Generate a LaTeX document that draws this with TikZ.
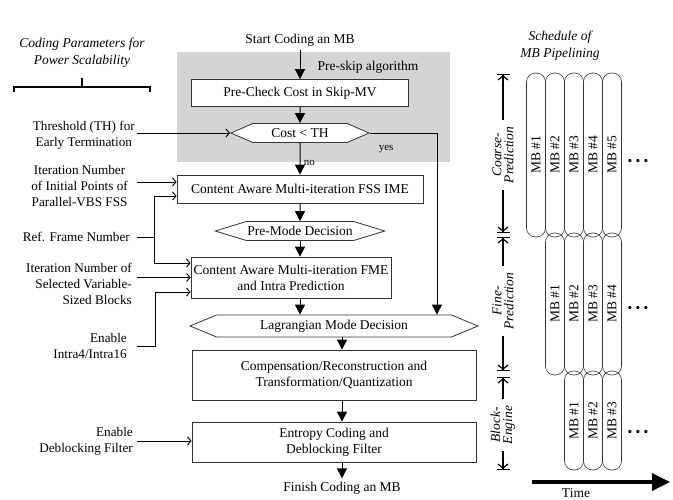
\documentclass[tikz,border=0pt]{standalone}
\usepackage{fontspec}
\setmainfont{Liberation Serif}
\usetikzlibrary{positioning,shapes.symbols,arrows.meta,calc}

\begin{document}
\begin{tikzpicture}[x=1pt,y=-1pt,
  font=\fontsize{13.5}{16}\selectfont,
  block/.style={draw=black!80, line width=0.8pt, fill=white, align=center, inner sep=1pt},
  decide/.style={draw=black!80, line width=0.8pt, fill=white, signal, signal to=west and east, inner sep=1pt},
  flow/.style={-{Triangle[length=10pt,width=10pt]}, line width=1pt},
  input/.style={-{Straight Barb[length=3.5pt,width=8pt]}, line width=0.9pt},
  param/.style={font=\fontsize{13.2}{16}\selectfont, anchor=east, inner ysep=0pt},
  head/.style={font=\itshape\fontsize{13.5}{17}\selectfont, align=center},
  mb/.style={draw=black!80, line width=0.6pt, rounded corners=9pt, rotate=90, minimum height=19pt, inner sep=0pt},
  stage/.style={font=\itshape\fontsize{13.5}{12}\selectfont, rotate=90, align=center, inner xsep=7pt, inner ysep=0pt},
  dim/.style={-{Straight Barb[length=4pt,width=10pt]Bar[width=13pt]}, line width=1.2pt}
]
\useasboundingbox (0,0) rectangle (673,499);

\fill[black!17] (177,52) rectangle (450,162);
\node (skip) at (368,67) {Pre-skip algorithm};

\node (start) at (300,40) {Start Coding an MB};
\node[block, minimum width=217pt, minimum height=27pt] (chk) at (300,93) {Pre-Check Cost in Skip-MV};
\node[decide, minimum width=138pt, minimum height=19pt, signal pointer angle=47] (cost) at (300,133) {Cost < TH};
\node[block, minimum width=246pt, minimum height=28pt] (fss) at (300,189) {Content Aware Multi-iteration FSS IME};
\node[decide, minimum width=165pt, minimum height=19pt, signal pointer angle=34] (premode) at (300,231) {Pre-Mode Decision};
\node[block, minimum width=200pt, minimum height=41pt] (fme) at (291,277.5) {Content Aware Multi-iteration FME\\and Intra Prediction};
\node[decide, minimum width=288pt, minimum height=22pt, signal pointer angle=45] (lag) at (334,326) {Lagrangian Mode Decision};
\node[block, minimum width=284pt, minimum height=50pt] (comp) at (334,375) {Compensation/Reconstruction and\\Transformation/Quantization};
\node[block, minimum width=284pt, minimum height=40pt] (ent) at (334,442) {Entropy Coding and\\Deblocking Filter};
\node (finish) at (342,488) {Finish Coding an MB};

\draw[flow] (start) -- (chk);
\draw[flow] (chk) -- (cost);
\draw[flow] (cost) -- (fss) node[pos=0.62, right, font=\fontsize{11}{11}\selectfont] {no};
\draw[flow] (cost.east) -| ($(lag.north)+(103,0)$) node[pos=0.12, below=8pt, font=\fontsize{11}{11}\selectfont] {yes};
\draw[flow] (fss) -- (premode);
\draw[flow] (premode.south) -- (premode.south |- fme.north);
\draw[flow] (premode.south |- fme.south) -- (premode.south |- lag.north);
\draw[flow] ([xshift=8pt]lag.south) -- ([xshift=8pt]comp.north);
\draw[flow] ([xshift=8pt]comp.south) -- ([xshift=8pt]ent.north);
\draw[flow] ([xshift=8pt]ent.south) -- (finish);

\node[head] (coding) at (82,53) {Coding Parameters for\\Power Scalability};
\draw[line width=1.3pt] (14,92) -- (14,87) -- (150,87) -- (150,92);
\draw[line width=1.3pt] (82,87) -- (82,78);

\node[param, align=center, inner xsep=2pt] (thr) at (137,135) {Threshold (TH) for\\Early Termination};
\node[param, align=center, inner xsep=9pt] (iip) at (137,186) {Iteration Number\\of Initial Points of\\Parallel-VBS FSS};
\node[param, inner xsep=7pt] (ref) at (137,237) {Ref. Frame Number};
\node[param, align=right, inner xsep=5pt] (isv) at (137,284) {Iteration Number of\\Selected Variable-\\Sized Blocks};
\node[param, align=right, inner xsep=10pt] (intra) at (137,346) {Enable\\Intra4/Intra16};
\node[param, align=right, inner xsep=4pt] (dbf) at (137,441) {Enable\\Deblocking Filter};

\coordinate (fssA) at ([yshift=7pt]fss.west);
\coordinate (fssB) at ([yshift=-7pt]fss.west);
\coordinate (fmeA) at ([yshift=14.5pt]fme.west);
\coordinate (fmeB) at (fme.west);
\coordinate (fmeC) at ([yshift=-14.5pt]fme.west);
\coordinate (refbus) at ([xshift=17pt]ref.east);

\draw[input] (thr.east |- cost.west) -- (cost.west);
\draw[input] (iip.east |- fssA) -- (fssA);
\draw[line width=0.9pt] (ref.east) -- (refbus);
\draw[input] (refbus) |- (fssB);
\draw[input] (refbus) |- (fmeA);
\draw[input] (isv.east |- fmeB) -- (fmeB);
\draw[input] (intra.east) -- ++(18,0) |- (fmeC);
\draw[input] (dbf.east) -- (dbf.east -| ent.west);

\node[head] (sched) at (560,46) {Schedule of\\MB Pipelining};

\foreach \i in {1,...,5}
  \node[mb, minimum width=164pt] (c\i) at (517+19*\i,155) {MB \#\i};
\foreach \i in {1,...,4}
  \node[mb, minimum width=142pt] (f\i) at (536+19*\i,304) {MB \#\i};
\foreach \i in {1,...,3}
  \node[mb, minimum width=99pt] (b\i) at (555+19*\i,420.5) {MB \#\i};
\node (more1) at (638,162) {\textbullet~\textbullet~\textbullet};
\node (more2) at (638,309) {\textbullet~\textbullet~\textbullet};
\node (more3) at (638,433) {\textbullet~\textbullet~\textbullet};

\node[stage] (clab) at (503,155) {Coarse-\\Prediction};
\node[stage] (flab) at (503,301) {Fine-\\Prediction};
\node[stage] (blab) at (503,425) {Block-\\Engine};
\coordinate (ctop) at (503,74);
\coordinate (cbot) at (503,233);
\coordinate (ftop) at (503,237);
\coordinate (fbot) at (503,371);
\coordinate (btop) at (503,377);
\coordinate (bbot) at (503,470);
\draw[dim] (clab.east) -- (ctop);
\draw[dim] (clab.west) -- (cbot);
\draw[dim] (flab.east) -- (ftop);
\draw[dim] (flab.west) -- (fbot);
\draw[dim] (blab.east) -- (btop);
\draw[dim] (blab.west) -- (bbot);

\coordinate (t0) at (532,482);
\coordinate (t1) at (670,482);
\draw[line width=3.5pt, -{Triangle[length=18pt,width=17pt]}] (t0) -- (t1);
\node (time) at (576,493) {Time};
\end{tikzpicture}
\end{document}
